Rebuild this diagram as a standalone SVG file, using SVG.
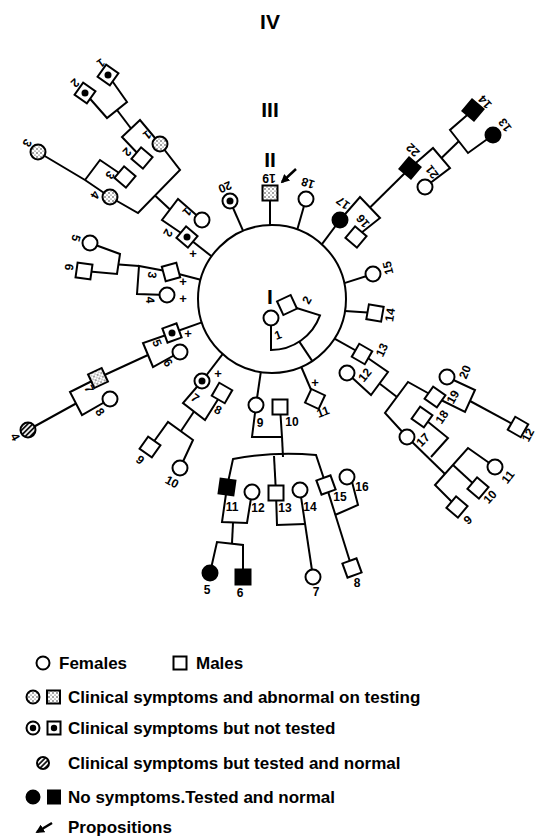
<svg xmlns="http://www.w3.org/2000/svg" width="537" height="838" viewBox="0 0 537 838">
<style>
.ln{fill:none;stroke:#000;stroke-width:2;stroke-linejoin:miter}
.o{fill:#fff;stroke:#000;stroke-width:2}
.k{fill:#000;stroke:#000;stroke-width:2}
.s{fill:url(#stip);stroke:#000;stroke-width:2}
.h{fill:url(#hatch);stroke:#000;stroke-width:2}
.d{fill:#000}
.t{font-family:"Liberation Sans",Arial,sans-serif;font-size:12px;font-weight:bold;fill:#000;text-anchor:middle;dominant-baseline:central}
.p{font-family:"Liberation Sans",Arial,sans-serif;font-size:13px;font-weight:bold;fill:#000;text-anchor:middle;dominant-baseline:central}
.r{font-family:"Liberation Sans",Arial,sans-serif;font-size:21px;font-weight:bold;fill:#000;text-anchor:middle}
.lg{font-family:"Liberation Sans",Arial,sans-serif;font-size:17px;font-weight:bold;fill:#000}
</style>
<defs>
<pattern id="stip" width="4" height="4" patternUnits="userSpaceOnUse">
<rect width="4" height="4" fill="#fff"/>
<circle cx="1" cy="1" r="0.7" fill="#000"/>
<circle cx="3" cy="3" r="0.5" fill="#000"/>
</pattern>
<pattern id="hatch" width="3.5" height="3.5" patternUnits="userSpaceOnUse" patternTransform="rotate(45)">
<rect width="3.5" height="3.5" fill="#fff"/>
<line x1="1" y1="0" x2="1" y2="3.5" stroke="#000" stroke-width="1.7"/>
</pattern>
<marker id="ah" viewBox="0 0 10 10" refX="8" refY="5" markerWidth="3.5" markerHeight="3.5" orient="auto">
<path d="M0,0 L10,5 L0,10 z" fill="#000"/>
</marker>
</defs>
<rect width="537" height="838" fill="#fff"/>

<g id="gen-labels">
<text class="r" x="270" y="29">IV</text>
<text class="r" x="270" y="117">III</text>
<text class="r" x="270" y="167">II</text>
<text class="r" x="270" y="304" font-size="20">I</text>
</g>

<g id="connectors">
<path class="ln" d="M271,318 L271,350 A52,52 0 0 0 320,315.4 L287,305"/>
<path class="ln" d="M299.3,341.6 L312.3,361.1"/>
<circle class="ln" cx="272" cy="299" r="74"/>
<path class="ln" d="M230,201 L243.1,230.9"/>
<path class="ln" d="M270,193 L270,225"/>
<path class="ln" d="M306,199 L297.3,229.5"/>
<path class="ln" d="M340,220 L321.8,244.3"/>
<path class="ln" d="M373,274 L344.3,283.1"/>
<path class="ln" d="M375,313 L345,311"/>
<path class="ln" d="M362,354 L334.5,338.6"/>
<path class="ln" d="M315,399 L301.3,367"/>
<path class="ln" d="M256,405 L260.8,372.1"/>
<path class="ln" d="M202,381 L222.6,354.1"/>
<path class="ln" d="M172,333 L201.8,322.4"/>
<path class="ln" d="M171,272 L200.6,279.7"/>
<path class="ln" d="M187,237 L211.5,256.3"/>
<path class="ln" d="M202,220 L178,199 L162,220 L187,237"/>
<path class="ln" d="M170,209.5 L155,195.6"/>
<path class="ln" d="M160,144 L180,170 L138,213 L110,197"/>
<path class="ln" d="M160,144 L140,120 L122,137 L142,158"/>
<path class="ln" d="M131,128.5 L117,110"/>
<path class="ln" d="M108,75 L127,102 L107,118 L85,93"/>
<path class="ln" d="M110,197 L85,180 L38,152"/>
<path class="ln" d="M85,180 L100,160 L125,177"/>
<path class="ln" d="M171,272 L139,266 L137,294 L167,295"/>
<path class="ln" d="M139,266 L119,264.5"/>
<path class="ln" d="M90,243 L120,254 L117,274 L84,271"/>
<path class="ln" d="M172,333 L143,343 L153,367 L180,352"/>
<path class="ln" d="M148,355 L98,378"/>
<path class="ln" d="M98,378 L70,392 L82,415 L110,399"/>
<path class="ln" d="M76,403.5 L28,430"/>
<path class="ln" d="M202,381 L183,403 L205,420 L222,393"/>
<path class="ln" d="M194,411.5 L181,431"/>
<path class="ln" d="M150,447 L168,422 L193,440 L180,468"/>
<path class="ln" d="M256,405 L252,437 L282,437 L280,407"/>
<path class="ln" d="M282,437 L283,457"/>
<path class="ln" d="M227,487 L233,459 Q274,451 316,455 L326,485"/>
<path class="ln" d="M274,456 L276,493"/>
<path class="ln" d="M227,487 L222,522 L247,523 L252,492"/>
<path class="ln" d="M233,523 L232,543"/>
<path class="ln" d="M210,573 L217,542 L243,545 L243,577"/>
<path class="ln" d="M276,493 L277,525 L305,524"/>
<path class="ln" d="M300,490 L313,577"/>
<path class="ln" d="M326,485 L352,568"/>
<path class="ln" d="M335,515 L358,505 L351,478"/>
<path class="ln" d="M362,354 L388,372 L371,395 L347,373"/>
<path class="ln" d="M379.5,383.5 L397,397"/>
<path class="ln" d="M435,397 L408,382 L385,413 L407,437"/>
<path class="ln" d="M435,397 L465,412 L475,390 L447,377"/>
<path class="ln" d="M470,401 L518,427"/>
<path class="ln" d="M422,417 L448,438 L431,457"/>
<path class="ln" d="M407,437 L445,474"/>
<path class="ln" d="M495,467 L468,448 L435,485 L457,507"/>
<path class="ln" d="M453,465 L478,488"/>
<path class="ln" d="M340,220 L360,197 L380,218 L356,237"/>
<path class="ln" d="M370,207.5 L410,168"/>
<path class="ln" d="M410,168 L433,148 L450,168 L425,187"/>
<path class="ln" d="M441.5,158 L459,141"/>
<path class="ln" d="M473,110 L450,130 L468,153 L493,135"/>
<path d="M296,169 L282,182" stroke="#000" stroke-width="2.5" fill="none" marker-end="url(#ah)"/>
</g>

<g id="I-1"><circle class="o" cx="271" cy="318" r="7.5"/><text class="t" transform="translate(278,335) rotate(-20)">1</text></g>
<g id="I-2"><rect class="o" x="-7.5" y="-7.5" width="15" height="15" transform="translate(287,305) rotate(-25)"/><text class="t" transform="translate(307,300) rotate(-60)">2</text></g>

<g id="II-1"><circle class="o" cx="202" cy="220" r="7.5"/><text class="t" transform="translate(187,212) rotate(135)">1</text></g>
<g id="II-2"><rect class="o" x="-7.5" y="-7.5" width="15" height="15" transform="translate(187,237) rotate(40)"/><circle class="d" cx="187" cy="237" r="3.5"/><text class="t" transform="translate(168,233) rotate(121)">2</text><text class="p" x="193" y="253">+</text></g>
<g id="II-3"><rect class="o" x="-7.5" y="-7.5" width="15" height="15" transform="translate(171,272) rotate(-15)"/><text class="t" transform="translate(152,275) rotate(100)">3</text><text class="p" x="183" y="281">+</text></g>
<g id="II-4"><circle class="o" cx="167" cy="295" r="7.5"/><text class="t" transform="translate(150,300) rotate(88)">4</text><text class="p" x="183" y="298">+</text></g>
<g id="II-5"><rect class="o" x="-7.5" y="-7.5" width="15" height="15" transform="translate(172,333) rotate(-20)"/><circle class="d" cx="172" cy="333" r="3.5"/><text class="t" transform="translate(157,343) rotate(68)">5</text><text class="p" x="188" y="333">+</text></g>
<g id="II-6"><circle class="o" cx="180" cy="352" r="7.5"/><text class="t" transform="translate(168,363) rotate(57)">6</text></g>
<g id="II-7"><circle class="o" cx="202" cy="381" r="7.5"/><circle class="d" cx="202" cy="381" r="3.5"/><text class="t" transform="translate(195,398) rotate(37)">7</text><text class="p" x="218" y="373">+</text></g>
<g id="II-8"><rect class="o" x="-7.5" y="-7.5" width="15" height="15" transform="translate(222,393) rotate(30)"/><text class="t" transform="translate(218,410) rotate(25)">8</text></g>
<g id="II-9"><circle class="o" cx="256" cy="405" r="7.5"/><text class="t" x="260" y="423">9</text></g>
<g id="II-10"><rect class="o" x="272.5" y="399.5" width="15" height="15"/><text class="t" x="292" y="422">10</text></g>
<g id="II-11"><rect class="o" x="-7.5" y="-7.5" width="15" height="15" transform="translate(315,399) rotate(25)"/><text class="t" transform="translate(323,412) rotate(-20)">11</text><text class="p" x="315" y="382">+</text></g>
<g id="II-12"><circle class="o" cx="347" cy="373" r="7.5"/><text class="t" transform="translate(365,375) rotate(-50)">12</text></g>
<g id="II-13"><rect class="o" x="-7.5" y="-7.5" width="15" height="15" transform="translate(362,354) rotate(30)"/><text class="t" transform="translate(382,350) rotate(-64)">13</text></g>
<g id="II-14"><rect class="o" x="-7.5" y="-7.5" width="15" height="15" transform="translate(375,313) rotate(10)"/><text class="t" transform="translate(390,315) rotate(-81)">14</text></g>
<g id="II-15"><circle class="o" cx="373" cy="274" r="7.5"/><text class="t" transform="translate(388,268) rotate(-104)">15</text></g>
<g id="II-16"><rect class="o" x="-7.5" y="-7.5" width="15" height="15" transform="translate(356,237) rotate(40)"/><text class="t" transform="translate(363,221) rotate(-130)">16</text></g>
<g id="II-17"><circle class="k" cx="340" cy="220" r="7.5"/><text class="t" transform="translate(343,203) rotate(-143)">17</text></g>
<g id="II-18"><circle class="o" cx="306" cy="199" r="7.5"/><text class="t" transform="translate(308,183) rotate(-162)">18</text></g>
<g id="II-19"><rect class="s" x="262.5" y="185.5" width="15" height="15"/><text class="t" transform="translate(269,177.5) rotate(180)">19</text></g>
<g id="II-20"><circle class="o" cx="230" cy="201" r="7.5"/><circle class="d" cx="230" cy="201" r="3.5"/><text class="t" transform="translate(225,187) rotate(157)">20</text></g>

<g id="III-1"><circle class="s" cx="160" cy="144" r="7.5"/><text class="t" transform="translate(147,135) rotate(142)">1</text></g>
<g id="III-2"><rect class="o" x="-7.5" y="-7.5" width="15" height="15" transform="translate(142,158) rotate(40)"/><text class="t" transform="translate(127,152) rotate(135)">2</text></g>
<g id="III-3"><rect class="o" x="-7.5" y="-7.5" width="15" height="15" transform="translate(125,177) rotate(40)"/><text class="t" transform="translate(110,175) rotate(126)">3</text></g>
<g id="III-4"><circle class="s" cx="110" cy="197" r="7.5"/><text class="t" transform="translate(95,195) rotate(120)">4</text></g>
<g id="III-5"><circle class="o" cx="90" cy="243" r="7.5"/><text class="t" transform="translate(76,238) rotate(106)">5</text></g>
<g id="III-6"><rect class="o" x="-7.5" y="-7.5" width="15" height="15" transform="translate(84,271) rotate(8)"/><text class="t" transform="translate(69,267) rotate(98)">6</text></g>
<g id="III-7"><rect class="s" x="-7.5" y="-7.5" width="15" height="15" transform="translate(98,378) rotate(-25)"/><text class="t" transform="translate(89,389) rotate(63)">7</text></g>
<g id="III-8"><circle class="o" cx="110" cy="399" r="7.5"/><text class="t" transform="translate(100,412) rotate(56)">8</text></g>
<g id="III-9"><rect class="o" x="-7.5" y="-7.5" width="15" height="15" transform="translate(150,447) rotate(35)"/><text class="t" transform="translate(140,460) rotate(39)">9</text></g>
<g id="III-10"><circle class="o" cx="180" cy="468" r="7.5"/><text class="t" transform="translate(172,482) rotate(28)">10</text></g>
<g id="III-11"><rect class="k" x="-7.5" y="-7.5" width="15" height="15" transform="translate(227,487) rotate(8)"/><text class="t" x="232" y="507">11</text></g>
<g id="III-12"><circle class="o" cx="252" cy="492" r="7.5"/><text class="t" x="258" y="508">12</text></g>
<g id="III-13"><rect class="o" x="268.5" y="485.5" width="15" height="15"/><text class="t" x="285" y="508">13</text></g>
<g id="III-14"><circle class="o" cx="300" cy="490" r="7.5"/><text class="t" x="310" y="507">14</text></g>
<g id="III-15"><rect class="o" x="-7.5" y="-7.5" width="15" height="15" transform="translate(326,485) rotate(-20)"/><text class="t" x="340" y="497">15</text></g>
<g id="III-16"><circle class="o" cx="347" cy="477" r="7.5"/><text class="t" x="362" y="487">16</text></g>
<g id="III-17"><circle class="o" cx="407" cy="437" r="7.5"/><text class="t" transform="translate(423,440) rotate(-46)">17</text></g>
<g id="III-18"><rect class="o" x="-7.5" y="-7.5" width="15" height="15" transform="translate(422,417) rotate(35)"/><text class="t" transform="translate(442,417) rotate(-55)">18</text></g>
<g id="III-19"><rect class="o" x="-7.5" y="-7.5" width="15" height="15" transform="translate(435,397) rotate(35)"/><text class="t" transform="translate(453,397) rotate(-61)">19</text></g>
<g id="III-20"><circle class="o" cx="447" cy="377" r="7.5"/><text class="t" transform="translate(465,372) rotate(-68)">20</text></g>
<g id="III-21"><circle class="o" cx="425" cy="187" r="7.5"/><text class="t" transform="translate(432,172) rotate(-128)">21</text></g>
<g id="III-22"><rect class="k" x="-7.5" y="-7.5" width="15" height="15" transform="translate(410,168) rotate(40)"/><text class="t" transform="translate(413,150) rotate(-136)">22</text></g>

<g id="IV-1"><rect class="o" x="-7.5" y="-7.5" width="15" height="15" transform="translate(108,75) rotate(35)"/><circle class="d" cx="108" cy="75" r="3.5"/><text class="t" transform="translate(101,63) rotate(144)">1</text></g>
<g id="IV-2"><rect class="o" x="-7.5" y="-7.5" width="15" height="15" transform="translate(85,93) rotate(35)"/><circle class="d" cx="85" cy="93" r="3.5"/><text class="t" transform="translate(75,83) rotate(137)">2</text></g>
<g id="IV-3"><circle class="s" cx="38" cy="152" r="7.5"/><text class="t" transform="translate(27,143) rotate(122)">3</text></g>
<g id="IV-4"><circle class="h" cx="28" cy="430" r="7.5"/><text class="t" transform="translate(15,437) rotate(61)">4</text></g>
<g id="IV-5"><circle class="k" cx="210" cy="573" r="7.5"/><text class="t" x="207" y="590">5</text></g>
<g id="IV-6"><rect class="k" x="235.5" y="569.5" width="15" height="15"/><text class="t" x="240" y="593">6</text></g>
<g id="IV-7"><circle class="o" cx="313" cy="577" r="7.5"/><text class="t" x="316" y="592">7</text></g>
<g id="IV-8"><rect class="o" x="-7.5" y="-7.5" width="15" height="15" transform="translate(352,568) rotate(-20)"/><text class="t" x="357" y="583">8</text></g>
<g id="IV-9"><rect class="o" x="-7.5" y="-7.5" width="15" height="15" transform="translate(457,507) rotate(40)"/><text class="t" transform="translate(468,520) rotate(-41)">9</text></g>
<g id="IV-10"><rect class="o" x="-7.5" y="-7.5" width="15" height="15" transform="translate(478,488) rotate(40)"/><text class="t" transform="translate(490,497) rotate(-47)">10</text></g>
<g id="IV-11"><circle class="o" cx="495" cy="467" r="7.5"/><text class="t" transform="translate(508,477) rotate(-52)">11</text></g>
<g id="IV-12"><rect class="o" x="-7.5" y="-7.5" width="15" height="15" transform="translate(518,427) rotate(30)"/><text class="t" transform="translate(528,435) rotate(-62)">12</text></g>
<g id="IV-13"><circle class="k" cx="493" cy="135" r="7.5"/><text class="t" transform="translate(505,125) rotate(-126)">13</text></g>
<g id="IV-14"><rect class="k" x="-7.5" y="-7.5" width="15" height="15" transform="translate(473,110) rotate(40)"/><text class="t" transform="translate(485,102) rotate(-132)">14</text></g>

<g id="legend">
<circle class="o" cx="43" cy="663" r="6.5" stroke-width="1.6"/>
<text class="lg" x="59" y="669">Females</text>
<rect class="o" x="173.5" y="656.5" width="13" height="13" stroke-width="1.6"/>
<text class="lg" x="196" y="669">Males</text>
<circle class="s" cx="33" cy="697" r="6.5" stroke-width="1.6"/>
<rect class="s" x="47" y="690.5" width="13" height="13" stroke-width="1.6"/>
<text class="lg" x="68" y="703">Clinical symptoms and abnormal on testing</text>
<circle class="o" cx="33" cy="728" r="6.5" stroke-width="1.6"/>
<circle class="d" cx="33" cy="728" r="3.2"/>
<rect class="o" x="47.5" y="721.5" width="13" height="13" stroke-width="1.6"/>
<circle class="d" cx="54" cy="728" r="3.2"/>
<text class="lg" x="68" y="734">Clinical symptoms but not tested</text>
<circle class="h" cx="43" cy="763" r="6" stroke-width="1.6"/>
<text class="lg" x="68" y="769">Clinical symptoms but tested and normal</text>
<circle class="k" cx="33" cy="797" r="6.5"/>
<rect class="k" x="48" y="790.5" width="12" height="13"/>
<text class="lg" x="68" y="803">No symptoms.Tested and normal</text>
<path d="M52,823 L37,832" stroke="#000" stroke-width="2.5" fill="none" marker-end="url(#ah)"/>
<text class="lg" x="68" y="833">Propositions</text>
</g>
</svg>
